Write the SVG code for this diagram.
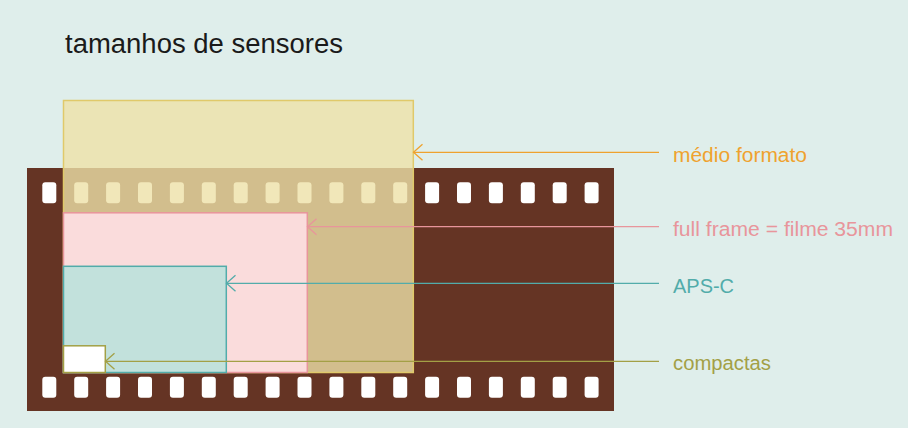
<svg xmlns="http://www.w3.org/2000/svg" width="908" height="428" viewBox="0 0 908 428">
<style>
.hole{fill:#ffffff}
.lbl{font-family:"Liberation Sans","Noto Sans",sans-serif;font-size:20px}
.conn{stroke-width:1.3;fill:none}
</style>
<defs>
<marker id="aO" markerUnits="userSpaceOnUse" markerWidth="20" markerHeight="20" viewBox="-10 -10 20 20" refX="0" refY="0" orient="auto"><path d="M-9,-8 L0,0 L-9,8" fill="none" stroke="#EFA22E" stroke-width="1.3"/></marker>
<marker id="aP" markerUnits="userSpaceOnUse" markerWidth="20" markerHeight="20" viewBox="-10 -10 20 20" refX="0" refY="0" orient="auto"><path d="M-9,-8 L0,0 L-9,8" fill="none" stroke="#E8959B" stroke-width="1.3"/></marker>
<marker id="aT" markerUnits="userSpaceOnUse" markerWidth="20" markerHeight="20" viewBox="-10 -10 20 20" refX="0" refY="0" orient="auto"><path d="M-9,-8 L0,0 L-9,8" fill="none" stroke="#52ACAA" stroke-width="1.3"/></marker>
<marker id="aG" markerUnits="userSpaceOnUse" markerWidth="20" markerHeight="20" viewBox="-10 -10 20 20" refX="0" refY="0" orient="auto"><path d="M-9,-8 L0,0 L-9,8" fill="none" stroke="#A3A046" stroke-width="1.3"/></marker>
</defs>
<rect x="0" y="0" width="908" height="428" fill="#DFEEEB"/>
<text x="65" y="53" font-family="Liberation Sans, Noto Sans, sans-serif" font-size="27" fill="#1a1a1a" textLength="278" lengthAdjust="spacingAndGlyphs">tamanhos de sensores</text>
<g id="film">
<rect x="27" y="168" width="587" height="243" fill="#653424"/>
<g id="holes-top">
<rect class="hole" x="42.3" y="182.3" width="14" height="21" rx="3"/>
<rect class="hole" x="74.2" y="182.3" width="14" height="21" rx="3"/>
<rect class="hole" x="106.1" y="182.3" width="14" height="21" rx="3"/>
<rect class="hole" x="138" y="182.3" width="14" height="21" rx="3"/>
<rect class="hole" x="169.9" y="182.3" width="14" height="21" rx="3"/>
<rect class="hole" x="201.8" y="182.3" width="14" height="21" rx="3"/>
<rect class="hole" x="233.7" y="182.3" width="14" height="21" rx="3"/>
<rect class="hole" x="265.6" y="182.3" width="14" height="21" rx="3"/>
<rect class="hole" x="297.5" y="182.3" width="14" height="21" rx="3"/>
<rect class="hole" x="329.4" y="182.3" width="14" height="21" rx="3"/>
<rect class="hole" x="361.3" y="182.3" width="14" height="21" rx="3"/>
<rect class="hole" x="393.2" y="182.3" width="14" height="21" rx="3"/>
<rect class="hole" x="425.1" y="182.3" width="14" height="21" rx="3"/>
<rect class="hole" x="457" y="182.3" width="14" height="21" rx="3"/>
<rect class="hole" x="488.9" y="182.3" width="14" height="21" rx="3"/>
<rect class="hole" x="520.8" y="182.3" width="14" height="21" rx="3"/>
<rect class="hole" x="552.7" y="182.3" width="14" height="21" rx="3"/>
<rect class="hole" x="584.6" y="182.3" width="14" height="21" rx="3"/>
</g>
<g id="holes-bottom">
<rect class="hole" x="42.3" y="376.7" width="14" height="21" rx="3"/>
<rect class="hole" x="74.2" y="376.7" width="14" height="21" rx="3"/>
<rect class="hole" x="106.1" y="376.7" width="14" height="21" rx="3"/>
<rect class="hole" x="138" y="376.7" width="14" height="21" rx="3"/>
<rect class="hole" x="169.9" y="376.7" width="14" height="21" rx="3"/>
<rect class="hole" x="201.8" y="376.7" width="14" height="21" rx="3"/>
<rect class="hole" x="233.7" y="376.7" width="14" height="21" rx="3"/>
<rect class="hole" x="265.6" y="376.7" width="14" height="21" rx="3"/>
<rect class="hole" x="297.5" y="376.7" width="14" height="21" rx="3"/>
<rect class="hole" x="329.4" y="376.7" width="14" height="21" rx="3"/>
<rect class="hole" x="361.3" y="376.7" width="14" height="21" rx="3"/>
<rect class="hole" x="393.2" y="376.7" width="14" height="21" rx="3"/>
<rect class="hole" x="425.1" y="376.7" width="14" height="21" rx="3"/>
<rect class="hole" x="457" y="376.7" width="14" height="21" rx="3"/>
<rect class="hole" x="488.9" y="376.7" width="14" height="21" rx="3"/>
<rect class="hole" x="520.8" y="376.7" width="14" height="21" rx="3"/>
<rect class="hole" x="552.7" y="376.7" width="14" height="21" rx="3"/>
<rect class="hole" x="584.6" y="376.7" width="14" height="21" rx="3"/>
</g>
</g>
<g id="medio-formato">
<rect x="63.5" y="100.5" width="349.8" height="272" fill="#EEE1A7" fill-opacity="0.8" stroke="#E0C96A" stroke-width="1.5"/>
</g>
<g id="full-frame">
<rect x="63.5" y="212.8" width="243.8" height="159.7" fill="#FADCDC" stroke="#E8959B" stroke-width="1.5"/>
</g>
<g id="aps-c">
<rect x="63.5" y="266.3" width="162.8" height="106.2" fill="#C2E1DC" stroke="#52ACAA" stroke-width="1.5"/>
</g>
<g id="compactas">
<rect x="63.5" y="345.8" width="41.8" height="26.7" fill="#FFFFFF" stroke="#A3A046" stroke-width="1.5"/>
</g>
<g id="connectors">
<line class="conn" x1="659" y1="152.3" x2="413.5" y2="152.3" stroke="#EFA22E" marker-end="url(#aO)"/>
<line class="conn" x1="659" y1="226.7" x2="307.5" y2="226.7" stroke="#E8959B" marker-end="url(#aP)"/>
<line class="conn" x1="659" y1="283.3" x2="226.5" y2="283.3" stroke="#52ACAA" marker-end="url(#aT)"/>
<line class="conn" x1="659" y1="361.3" x2="105.5" y2="361.3" stroke="#A3A046" marker-end="url(#aG)"/>
</g>
<g id="labels">
<text class="lbl" x="673" y="161.5" fill="#EFA22E" textLength="134" lengthAdjust="spacingAndGlyphs">médio formato</text>
<text class="lbl" x="673" y="236" fill="#E8959B" textLength="220" lengthAdjust="spacingAndGlyphs">full frame = filme 35mm</text>
<text class="lbl" x="673" y="293" fill="#52ACAA" textLength="61" lengthAdjust="spacingAndGlyphs">APS-C</text>
<text class="lbl" x="673" y="370" fill="#A3A046" textLength="98" lengthAdjust="spacingAndGlyphs">compactas</text>
</g>
</svg>
